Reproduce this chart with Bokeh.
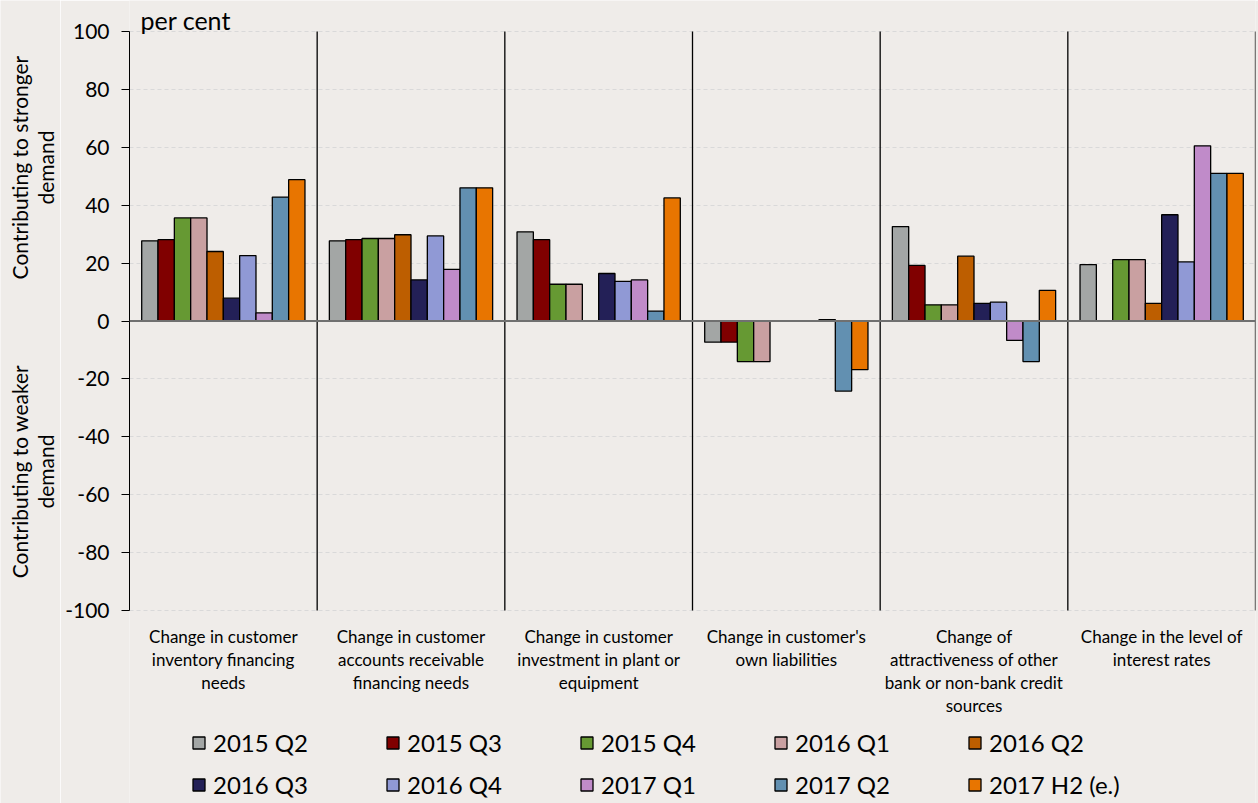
import math
from bokeh.plotting import figure
from bokeh.layouts import row
from bokeh.models import Range1d, Span, Label, Legend, LegendItem, ColumnDataSource, FixedTicker
from bokeh.core.properties import value
from bokeh.transform import dodge
from bokeh.embed import file_html
from bokeh.resources import INLINE

nan = float("nan")

categories = [
    "Change in customer\ninventory financing\nneeds",
    "Change in customer\naccounts receivable\nfinancing needs",
    "Change in customer\ninvestment in plant or\nequipment",
    "Change in customer's\nown liabilities",
    "Change of\nattractiveness of other\nbank or non-bank credit\nsources",
    "Change in the level of\ninterest rates",
]
series_names = ["2015 Q2", "2015 Q3", "2015 Q4", "2016 Q1", "2016 Q2",
                "2016 Q3", "2016 Q4", "2017 Q1", "2017 Q2", "2017 H2 (e.)"]
s2015q2 = [27.7, 27.7, 30.8, -7.3, 32.6, 19.5]
s2015q3 = [28.1, 28.1, 28.1, -7.3, 19.2, nan]
s2015q4 = [35.6, 28.5, 12.7, -14.0, 5.6, 21.2]
s2016q1 = [35.6, 28.5, 12.7, -14.0, 5.6, 21.2]
s2016q2 = [24.0, 29.8, nan, nan, 22.4, 6.1]
s2016q3 = [7.9, 14.2, 16.4, nan, 6.1, 36.7]
s2016q4 = [22.6, 29.4, 13.7, nan, 6.5, 20.4]
s2017q1 = [2.8, 17.8, 14.2, 0.5, -6.7, 60.5]
s2017q2 = [42.8, 46.0, 3.4, -24.2, -14.0, 51.0]
s2017h2 = [48.8, 46.0, 42.5, -16.8, 10.6, 51.0]
series_values = [s2015q2, s2015q3, s2015q4, s2016q1, s2016q2,
                 s2016q3, s2016q4, s2017q1, s2017q2, s2017h2]
colors = ["#A3A6A5", "#800000", "#669933", "#C9A0A1", "#BD5E00",
          "#232057", "#9099D5", "#C08BC9", "#6290B1", "#E87500"]
y_ticks = list(range(-100, 101, 20))
side_labels = ["Contributing to stronger\ndemand", "Contributing to weaker\ndemand"]
side_label_y = [53, -52]

FONT = "Lato"
BG = "#EFECE9"
STRIP = 60

# vertical mapping: 100 -> 31px, -100 -> 610px, canvas height 803
ppu = (610 - 31) / 200.0
y_range = Range1d(-100 - (803 - 610) / ppu, 100 + 31 / ppu)

# ---- left strip with the rotated side labels ----
left = figure(width=STRIP, height=803, output_backend="svg", toolbar_location=None,
              x_range=Range1d(0, STRIP), y_range=y_range, x_axis_type=None, y_axis_type=None,
              min_border_left=0, min_border_right=0, min_border_top=0, min_border_bottom=0)
left.background_fill_color = BG
left.border_fill_color = BG
left.outline_line_color = None
left.grid.visible = False
left.text(x=[32, 32], y=side_label_y, text=side_labels, angle=math.pi / 2,
          text_align="center", text_baseline="middle", text_font=value(FONT),
          text_font_size="21px", text_color="black", text_line_height=1.05)

# ---- main chart ----
data = {"x": [i + 0.5 for i in range(len(categories))]}
for name, vals in zip(series_names, series_values):
    data[name] = vals
source = ColumnDataSource(data)

p = figure(width=1258 - STRIP, height=803, output_backend="svg", toolbar_location=None,
           x_range=Range1d(0, len(categories)), y_range=y_range, x_axis_type=None,
           min_border_left=129 - STRIP, min_border_right=3, min_border_top=0, min_border_bottom=0)
p.background_fill_color = BG
p.border_fill_color = BG
p.outline_line_color = None

p.ygrid.grid_line_color = "#D9D9D9"
p.ygrid.grid_line_dash = "4 3"
p.ygrid.grid_line_width = 1
p.yaxis.ticker = FixedTicker(ticks=y_ticks)
p.yaxis.bounds = (-100, 100)
p.yaxis.major_label_overrides = {t: str(t) for t in y_ticks}
p.yaxis.minor_tick_line_color = None
p.yaxis.major_tick_in = 0
p.yaxis.major_tick_out = 8
p.yaxis.major_label_standoff = 12
p.yaxis.axis_line_color = "black"
p.yaxis.major_tick_line_color = "black"
p.yaxis.major_label_text_font = FONT
p.yaxis.major_label_text_font_size = "21px"
p.yaxis.major_label_text_color = "black"

n = len(series_names)
bw = 0.087
items = []
for i, (name, col) in enumerate(zip(series_names, colors)):
    off = -bw * n / 2 + (i + 0.5) * bw
    r = p.vbar(x=dodge("x", off, range=p.x_range), top=name, bottom=0, width=bw,
               source=source, fill_color=col, line_color="black", line_width=1.3)
    items.append(LegendItem(label=name, renderers=[r]))

p.add_layout(Span(location=0, dimension="width", line_color="#707070", line_width=2))
sep = list(range(1, len(categories) + 1))
p.segment(x0=sep, y0=[-100] * len(sep), x1=sep, y1=[100] * len(sep),
          line_color="black", line_width=1.3)

for k, cat in enumerate(categories):
    p.add_layout(Label(x=k + 0.5, y=178, y_units="screen", text=cat, text_align="center",
                       text_baseline="top", text_font=FONT, text_font_size="17px",
                       text_line_height=1.1, text_color="black"))

p.add_layout(Label(x=11, y=803 - 19, x_units="screen", y_units="screen", text="per cent",
                   text_baseline="middle", text_font=FONT, text_font_size="25px",
                   text_color="black"))

legend = Legend(items=items, orientation="horizontal", ncols=5, location=(62, 4),
                glyph_width=15, glyph_height=15, label_standoff=7, label_width=159,
                spacing=13, padding=0, margin=0, background_fill_alpha=0,
                border_line_alpha=0, label_text_font=FONT, label_text_font_size="24px",
                label_text_color="black")
p.add_layout(legend)

layout = row(left, p, spacing=0)
html = file_html(layout, INLINE)
html = html.replace("<body>", '<body style="margin:0;background:%s;">' % BG, 1)
open("out.html", "w").write(html)
